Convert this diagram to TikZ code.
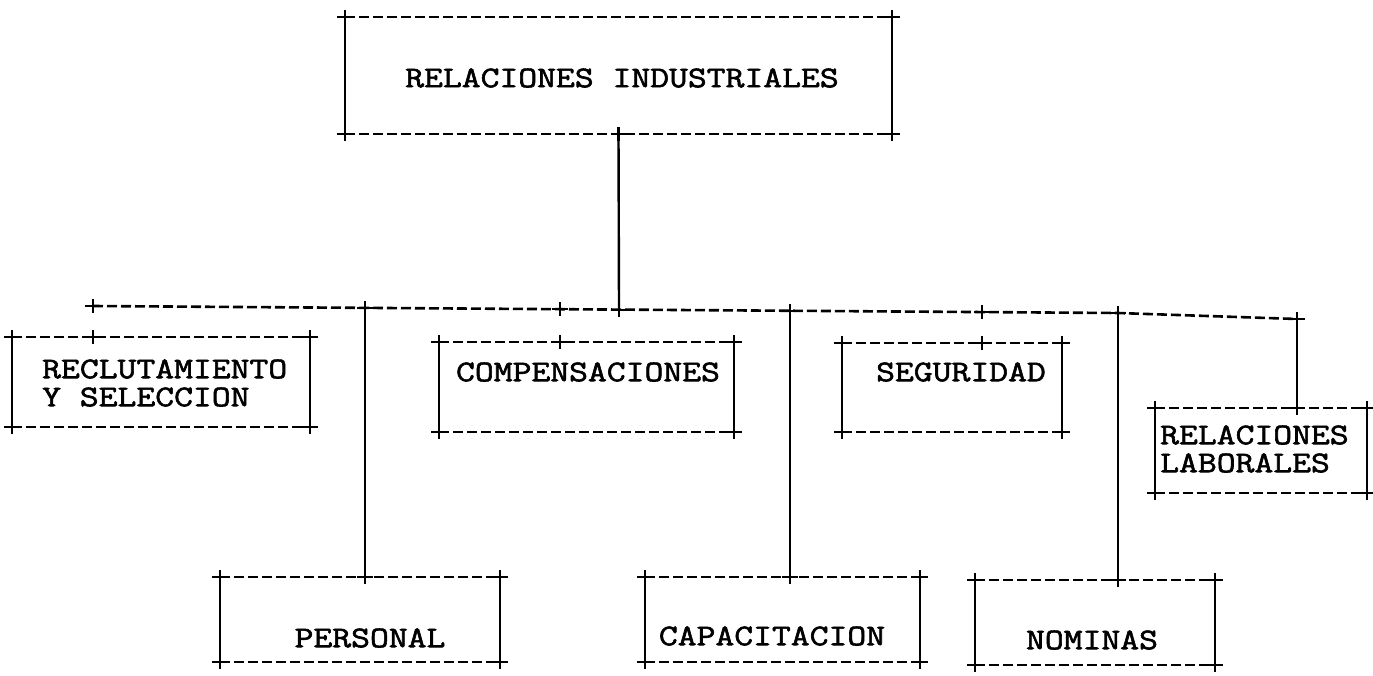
\documentclass[tikz,border=0pt]{standalone}
\usepackage{fontspec}
\newfontfamily\courf{Latin Modern Mono}[FakeBold=2, FakeStretch=1.22]
\usetikzlibrary{calc}
\tikzset{
  boxn/.style={draw=none, rectangle, inner sep=0pt, outer sep=0pt},
  lbl/.style={font=\courf\fontsize{30}{28}\selectfont, inner sep=0pt, align=left},
  dashln/.style={line width=2.6pt, dash pattern=on 10pt off 4pt},
  solidln/.style={line width=2.4pt},
  pmark/.pic={\draw[line width=2.8pt] (-8pt,0) -- (8pt,0) (0,-7pt) -- (0,7pt);}
}
\newcommand\dbox[1]{%
  \draw[dashln] (#1.north west) -- (#1.north east) (#1.south west) -- (#1.south east);
  \draw[solidln] (#1.north west) -- (#1.south west) (#1.north east) -- (#1.south east);
  \pic at (#1.north west) {pmark};
  \pic at (#1.north east) {pmark};
  \pic at (#1.south west) {pmark};
  \pic at (#1.south east) {pmark};
}
\begin{document}
\begin{tikzpicture}[x=1pt,y=-1pt]
\useasboundingbox (0,0) rectangle (1373,675);
% boxes
\node[boxn, minimum width=547pt, minimum height=117pt] (top) at (618.5,75.5) {};
\node[boxn, minimum width=298pt, minimum height=90pt] (recl) at (161,382) {};
\node[boxn, minimum width=295pt, minimum height=90pt] (comp) at (586.5,387) {};
\node[boxn, minimum width=220pt, minimum height=89pt] (seg) at (952,387.5) {};
\node[boxn, minimum width=212pt, minimum height=85pt] (rell) at (1261,450.5) {};
\node[boxn, minimum width=280pt, minimum height=85pt] (pers) at (360,619.5) {};
\node[boxn, minimum width=275pt, minimum height=85pt] (capa) at (782.5,619.5) {};
\node[boxn, minimum width=240pt, minimum height=85pt] (nomi) at (1095,622.5) {};
% texts
\node[lbl] (topt) at (622,78) {RELACIONES INDUSTRIALES};
\node[lbl, anchor=west] (reclt) at (42,383) {RECLUTAMIENTO\\Y SELECCION};
\node[lbl] (compt) at (588,372) {COMPENSACIONES};
\node[lbl] (segt) at (961,372) {SEGURIDAD};
\node[lbl, anchor=west] (rellt) at (1160,449) {RELACIONES\\LABORALES};
\node[lbl] (perst) at (370,638) {PERSONAL};
\node[lbl] (capat) at (772,636) {CAPACITACION};
\node[lbl] (nomit) at (1092,640) {NOMINAS};
\dbox{top}\dbox{recl}\dbox{comp}\dbox{seg}\dbox{rell}\dbox{pers}\dbox{capa}\dbox{nomi}
% bus coordinates
\coordinate (jr) at (93,306);
\coordinate (jp) at (365,308);
\coordinate (jc) at (560,309);
\coordinate (j0) at (619,310);
\coordinate (jk) at (790,311);
\coordinate (js) at (982,312);
\coordinate (jn) at (1118,313);
\coordinate (jl) at (1297,319);
\draw[dashln] (jr) -- (jn) -- (jl);
% connectors
\draw[solidln] (top.south) -- (j0);
\draw[solidln] (jp) -- (jp |- pers.north);
\draw[solidln] (jk) -- (jk |- capa.north);
\draw[solidln] (jn) -- (jn |- nomi.north);
\draw[solidln] (jl) -- (jl |- rell.north);
% plus marks
\foreach \c in {jr,jp,jc,j0,jk,js,jn,jl} {\pic at (\c) {pmark};}
\pic at (top.south) {pmark};
\pic at (jp |- pers.north) {pmark};
\pic at (jk |- capa.north) {pmark};
\pic at (jn |- nomi.north) {pmark};
\pic at (jl |- rell.north) {pmark};
\pic at (jr |- recl.north) {pmark};
\pic at (jc |- comp.north) {pmark};
\pic at (js |- seg.north) {pmark};
\end{tikzpicture}
\end{document}
